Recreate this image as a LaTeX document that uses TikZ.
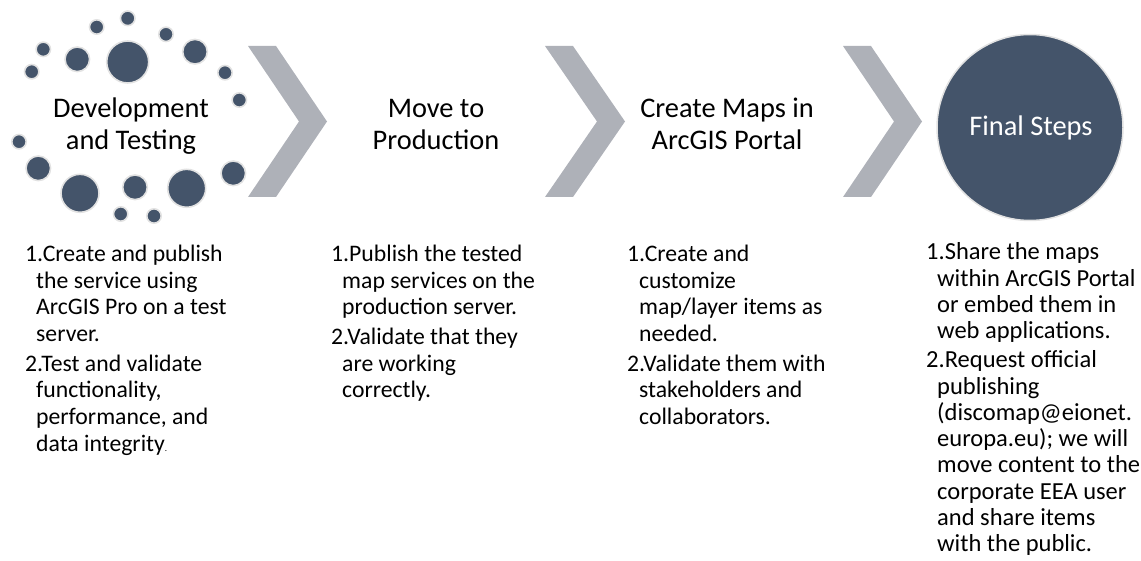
\documentclass[tikz,border=0pt]{standalone}
\usepackage{fontspec}
\setmainfont{Carlito}
\definecolor{slate}{HTML}{44546A}
\definecolor{ringgrey}{HTML}{E2E2E2}
\definecolor{chevgrey}{HTML}{AEB1B8}
% one numbered entry with a hanging indent for its wrapped lines
\newcommand\stepitem[2][11bp]{\par\hangindent=#1\hangafter=1\noindent #2\par}
\newcommand\itemgap[1][3.3bp]{\vspace{#1}}
% a top-aligned block whose baseline is its first line
\newcommand\stepblock[1]{\parbox[t]{280bp}{\raggedright #1}}
\begin{document}
\begin{tikzpicture}[x=1bp,y=-1bp,
  dot/.style={fill=slate, draw=ringgrey, line width=1.6bp},
  chev/.style={fill=chevgrey, draw=none},
  title/.style={font=\fontsize{28.5}{32.5}\selectfont, align=center, anchor=base, inner sep=0pt},
  steps/.style={font=\fontsize{23.8}{26.7}\selectfont, anchor=base west, inner sep=0pt},
  bigsteps/.style={steps, font=\fontsize{24.6}{26.4}\selectfont}
]
\useasboundingbox (0,0) rectangle (1141,561);

% ring of dots around the first stage
\foreach \cx/\cy/\r in {
  127.7/18.3/7.3, 96.7/27/7.2, 166/34.3/7.2, 43.3/49.3/7.2, 31.7/71.7/7.2,
  77.3/59.3/12.3, 127.7/62/21, 195/51.7/12.3, 225/72.7/7.2, 239.3/100/7.2,
  19/141.7/7.2, 38.3/168.3/12.3, 80/193.3/19, 135/187.3/12.3, 186.7/188.3/19,
  233.3/173.3/12.3, 120.7/214/7.2, 154/216/7.2}
  \path[dot] (\cx,\cy) circle (\r);

% chevrons between the stages
\path[chev] (248,46) -- (276,46) -- (327,121.5) -- (276,197) -- (248,197) -- (299,121.5) -- cycle;
\path[chev] (545,46) -- (573,46) -- (625,121.5) -- (573,197) -- (545,197) -- (597,121.5) -- cycle;
\path[chev] (843,46) -- (871,46) -- (922,121.5) -- (871,197) -- (843,197) -- (894,121.5) -- cycle;

% final stage disc
\node[circle, fill=slate, draw=ringgrey, line width=1.5bp, minimum size=186bp, inner sep=0pt]
  (final) at (1030,127.5) {};

% stage titles (anchored on the baseline of the last line)
\node[title] (dev) at (131,149.5) {Development\\and Testing};
\node[title] (move) at (436,149.5) {Move to\\Production};
\node[title] (maps) at (727,149.5) {Create Maps in\\ArcGIS Portal};
\node[title, text=white] (fin) at (1031,136) {Final Steps};

% task lists under each stage
\node[steps] (devsteps) at (25,261.5) {\stepblock{%
  \stepitem{1.Create and publish\newline the service using\newline ArcGIS Pro on a test\newline server.}%
  \itemgap
  \stepitem{2.Test and validate\newline functionality,\newline performance, and\newline data integrity{\fontsize{9}{9}\selectfont.}}}};
\node[steps] (movesteps) at (331,261.5) {\stepblock{%
  \stepitem{1.Publish the tested\newline map services on the\newline production server.}%
  \itemgap
  \stepitem{2.Validate that they\newline are working\newline correctly.}}};
\node[steps] (mapsteps) at (627,261.5) {\stepblock{%
  \stepitem[12bp]{1.Create and\newline customize\newline map/layer items as\newline needed.}%
  \itemgap
  \stepitem[12bp]{2.Validate them with\newline stakeholders and\newline collaborators.}}};
\node[bigsteps] (finsteps) at (926,260) {\stepblock{%
  \stepitem{1.Share the maps\newline within ArcGIS Portal\newline or embed them in\newline web applications.}%
  \itemgap[2.5bp]
  \stepitem{2.Request official\newline publishing\newline (discomap@eionet.\newline europa.eu); we will\newline move content to the\newline corporate EEA user\newline and share items\newline with the public.}}};
\end{tikzpicture}
\end{document}
